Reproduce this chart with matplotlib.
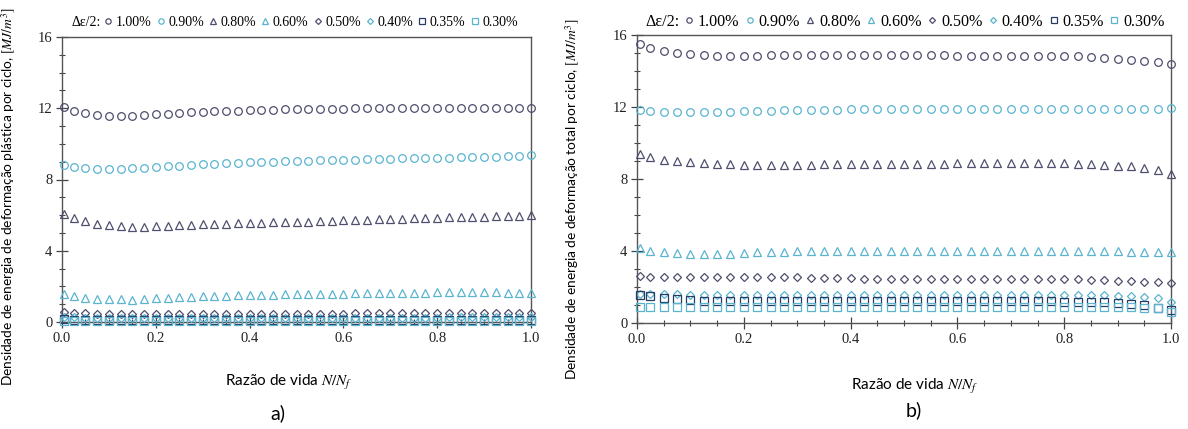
import matplotlib
matplotlib.use('Agg')
import matplotlib.pyplot as plt
from matplotlib.lines import Line2D
from matplotlib.ticker import MultipleLocator

# life ratio N/Nf (same sampling for every series)
life = [0.005, 0.025, 0.05, 0.075, 0.1, 0.125, 0.15, 0.175, 0.2, 0.225,
        0.25, 0.275, 0.3, 0.325, 0.35, 0.375, 0.4, 0.425, 0.45, 0.475,
        0.5, 0.525, 0.55, 0.575, 0.6, 0.625, 0.65, 0.675, 0.7, 0.725,
        0.75, 0.775, 0.8, 0.825, 0.85, 0.875, 0.9, 0.925, 0.95, 0.975, 1.0]

labels = ['1.00%', '0.90%', '0.80%', '0.60%', '0.50%', '0.40%', '0.35%', '0.30%']

# a) plastic strain energy density per cycle [MJ/m^3]
plast_100 = [12.05, 11.86, 11.72, 11.62, 11.58, 11.57, 11.58, 11.62, 11.66, 11.70,
             11.75, 11.79, 11.80, 11.84, 11.86, 11.86, 11.89, 11.90, 11.91, 11.93,
             11.95, 11.96, 11.97, 11.97, 11.98, 11.99, 11.99, 12.00, 12.00, 12.00,
             12.00, 12.00, 12.00, 12.00, 12.00, 12.00, 12.00, 12.00, 12.00, 12.00, 12.02]
plast_090 = [8.82, 8.68, 8.62, 8.58, 8.58, 8.58, 8.62, 8.66, 8.70, 8.74,
             8.78, 8.83, 8.86, 8.88, 8.92, 8.94, 8.96, 8.98, 9.00, 9.02,
             9.04, 9.05, 9.07, 9.08, 9.10, 9.12, 9.13, 9.14, 9.16, 9.18,
             9.19, 9.20, 9.22, 9.23, 9.24, 9.25, 9.26, 9.28, 9.30, 9.32, 9.38]
plast_080 = [6.07, 5.83, 5.66, 5.50, 5.44, 5.38, 5.35, 5.35, 5.38, 5.40,
             5.42, 5.45, 5.48, 5.50, 5.52, 5.53, 5.55, 5.57, 5.59, 5.61,
             5.63, 5.64, 5.66, 5.68, 5.70, 5.72, 5.74, 5.76, 5.78, 5.80,
             5.82, 5.84, 5.86, 5.87, 5.88, 5.90, 5.91, 5.93, 5.94, 5.95, 5.98]
plast_060 = [1.55, 1.45, 1.37, 1.30, 1.28, 1.27, 1.26, 1.28, 1.32, 1.35,
             1.38, 1.42, 1.44, 1.46, 1.48, 1.50, 1.51, 1.52, 1.54, 1.56,
             1.57, 1.58, 1.59, 1.60, 1.60, 1.61, 1.62, 1.63, 1.64, 1.64,
             1.65, 1.65, 1.66, 1.66, 1.66, 1.66, 1.66, 1.66, 1.65, 1.65, 1.65]
plast_050 = [0.57, 0.50, 0.48, 0.47, 0.47, 0.46, 0.46, 0.46, 0.46, 0.46,
             0.46, 0.46, 0.46, 0.46, 0.47, 0.47, 0.47, 0.47, 0.47, 0.47,
             0.47, 0.47, 0.47, 0.47, 0.47, 0.48, 0.48, 0.48, 0.48, 0.48,
             0.48, 0.48, 0.48, 0.48, 0.48, 0.49, 0.49, 0.49, 0.49, 0.50, 0.52]
plast_040 = [0.30, 0.26, 0.25, 0.24, 0.24, 0.24, 0.24, 0.24, 0.24, 0.24,
             0.24, 0.24, 0.24, 0.24, 0.24, 0.24, 0.25, 0.25, 0.25, 0.25,
             0.25, 0.25, 0.25, 0.25, 0.25, 0.25, 0.25, 0.25, 0.25, 0.25,
             0.25, 0.25, 0.25, 0.26, 0.26, 0.26, 0.26, 0.26, 0.26, 0.26, 0.28]
plast_035 = [0.16, 0.13, 0.12, 0.11, 0.11, 0.11, 0.11, 0.11, 0.11, 0.11,
             0.11, 0.11, 0.11, 0.11, 0.11, 0.11, 0.11, 0.11, 0.11, 0.11,
             0.11, 0.11, 0.11, 0.11, 0.11, 0.11, 0.11, 0.11, 0.11, 0.11,
             0.11, 0.11, 0.11, 0.11, 0.11, 0.11, 0.11, 0.11, 0.11, 0.11, 0.12]
plast_030 = [0.07, 0.06, 0.06, 0.06, 0.06, 0.06, 0.06, 0.06, 0.06, 0.06,
             0.06, 0.06, 0.06, 0.06, 0.06, 0.06, 0.06, 0.06, 0.06, 0.06,
             0.06, 0.06, 0.06, 0.06, 0.06, 0.06, 0.06, 0.06, 0.06, 0.06,
             0.06, 0.06, 0.06, 0.06, 0.06, 0.06, 0.06, 0.06, 0.06, 0.06, 0.06]

# b) total strain energy density per cycle [MJ/m^3]
total_100 = [15.49, 15.27, 15.12, 14.98, 14.93, 14.88, 14.86, 14.86, 14.86, 14.86,
             14.87, 14.88, 14.88, 14.88, 14.88, 14.88, 14.88, 14.88, 14.88, 14.88,
             14.88, 14.88, 14.87, 14.87, 14.86, 14.86, 14.86, 14.86, 14.85, 14.85,
             14.85, 14.85, 14.86, 14.84, 14.80, 14.73, 14.66, 14.62, 14.57, 14.51, 14.38]
total_090 = [11.83, 11.78, 11.73, 11.72, 11.72, 11.72, 11.73, 11.74, 11.76, 11.78,
             11.79, 11.81, 11.82, 11.83, 11.84, 11.86, 11.87, 11.88, 11.89, 11.89,
             11.90, 11.90, 11.90, 11.91, 11.91, 11.91, 11.91, 11.91, 11.91, 11.90,
             11.90, 11.90, 11.90, 11.89, 11.88, 11.88, 11.88, 11.88, 11.88, 11.90, 11.93]
total_080 = [9.39, 9.25, 9.08, 8.99, 8.95, 8.87, 8.84, 8.82, 8.80, 8.79,
             8.79, 8.79, 8.80, 8.80, 8.81, 8.82, 8.82, 8.83, 8.83, 8.84,
             8.84, 8.85, 8.86, 8.86, 8.87, 8.87, 8.88, 8.88, 8.88, 8.88,
             8.88, 8.87, 8.87, 8.85, 8.84, 8.80, 8.75, 8.71, 8.62, 8.48, 8.28]
total_060 = [4.15, 4.02, 3.92, 3.87, 3.83, 3.82, 3.84, 3.86, 3.91, 3.94,
             3.96, 3.97, 3.98, 4.00, 4.00, 4.00, 4.00, 4.00, 4.00, 4.00,
             4.00, 4.01, 4.01, 4.01, 4.01, 4.01, 4.01, 4.01, 4.00, 4.00,
             4.00, 4.00, 4.00, 4.00, 4.00, 3.99, 3.98, 3.97, 3.96, 3.95, 3.93]
total_050 = [2.62, 2.58, 2.57, 2.57, 2.56, 2.56, 2.55, 2.55, 2.55, 2.55,
             2.55, 2.54, 2.53, 2.52, 2.49, 2.48, 2.48, 2.47, 2.47, 2.47,
             2.47, 2.47, 2.47, 2.47, 2.47, 2.47, 2.47, 2.47, 2.47, 2.46,
             2.46, 2.46, 2.45, 2.44, 2.40, 2.37, 2.34, 2.32, 2.30, 2.28, 2.22]
total_040 = [1.62, 1.60, 1.59, 1.59, 1.58, 1.58, 1.58, 1.58, 1.58, 1.58,
             1.58, 1.58, 1.58, 1.58, 1.58, 1.58, 1.58, 1.58, 1.58, 1.58,
             1.58, 1.58, 1.58, 1.58, 1.57, 1.57, 1.57, 1.57, 1.57, 1.56,
             1.56, 1.56, 1.56, 1.55, 1.55, 1.54, 1.52, 1.50, 1.47, 1.38, 1.18]
total_035 = [1.57, 1.49, 1.38, 1.33, 1.27, 1.24, 1.22, 1.21, 1.21, 1.21,
             1.21, 1.21, 1.21, 1.21, 1.21, 1.21, 1.21, 1.21, 1.21, 1.21,
             1.21, 1.21, 1.21, 1.21, 1.21, 1.21, 1.21, 1.20, 1.20, 1.20,
             1.20, 1.20, 1.19, 1.18, 1.17, 1.14, 1.10, 1.05, 0.98, 0.84, 0.70]
total_030 = [0.90, 0.90, 0.90, 0.90, 0.90, 0.90, 0.90, 0.90, 0.90, 0.90,
             0.90, 0.90, 0.90, 0.90, 0.89, 0.89, 0.89, 0.89, 0.89, 0.89,
             0.89, 0.89, 0.89, 0.89, 0.88, 0.88, 0.88, 0.88, 0.88, 0.88,
             0.88, 0.88, 0.88, 0.88, 0.88, 0.87, 0.87, 0.87, 0.86, 0.84, 0.62]

dark = '#4e4e6e'
light = '#5ab4cf'
navy = '#263c64'
styles = [('o', dark), ('o', light), ('^', dark), ('^', light),
          ('D', dark), ('D', light), ('s', navy), ('s', light)]
msizes = [5.5, 5.5, 6, 6, 4.3, 4.3, 5.5, 5.5]

plt.rcParams['mathtext.fontset'] = 'stix'
serif = 'Liberation Serif'
sans = 'Lato'

W, H = 1188, 429
fig = plt.figure(figsize=(W / 100, H / 100), dpi=100)


def make_axes(x0, y0, x1, y1):
    # pixel box -> figure fraction
    return fig.add_axes([x0 / W, 1 - y1 / H, (x1 - x0) / W, (y1 - y0) / H])


def style_axes(ax):
    ax.set_xlim(0, 1.0)
    ax.set_ylim(0, 16)
    ax.xaxis.set_major_locator(MultipleLocator(0.2))
    ax.xaxis.set_minor_locator(MultipleLocator(0.05))
    ax.yaxis.set_major_locator(MultipleLocator(4))
    ax.yaxis.set_minor_locator(MultipleLocator(1))
    ax.xaxis.set_major_formatter(plt.FuncFormatter(lambda v, p: f'{v:.1f}'))
    ax.tick_params(which='major', direction='inout', length=8, width=0.9,
                   color='#444444', labelsize=10.5, pad=3)
    ax.tick_params(which='minor', direction='inout', length=4.5, width=0.8,
                   color='#444444')
    for lab in ax.get_xticklabels() + ax.get_yticklabels():
        lab.set_fontfamily(serif)
        lab.set_color('#222222')
    for sp in ax.spines.values():
        sp.set_color('#555555')
        sp.set_linewidth(1.0)


def draw(ax, series):
    for (mk, col), ms, vals in zip(styles, msizes, series):
        ax.plot(life, vals, linestyle='none', marker=mk, ms=ms,
                markerfacecolor='none', markeredgecolor=col, mew=0.9,
                clip_on=False, zorder=3)


def legend_row(x_text, x_leg, y, size):
    fig.text(x_text / W, 1 - y / H, 'Δε/2:', family=serif, fontsize=size,
             va='center', ha='left')
    handles = [Line2D([], [], linestyle='none', marker=mk, ms=ms * 0.7,
                      markerfacecolor='none', markeredgecolor=col, mew=0.9)
               for (mk, col), ms in zip(styles, msizes)]
    fig.legend(handles, labels, loc='center left', ncol=8,
               bbox_to_anchor=(x_leg / W, 1 - y / H), frameon=False,
               prop={'family': serif, 'size': size}, handlelength=0.6,
               handletextpad=0.25, columnspacing=0.35, borderpad=0,
               borderaxespad=0)


ax1 = make_axes(62, 37, 531, 322)
style_axes(ax1)
draw(ax1, [plast_100, plast_090, plast_080, plast_060,
           plast_050, plast_040, plast_035, plast_030])
ax1.set_xlabel('Razão de vida $N/N_f$', family=sans, fontsize=11)
ax1.xaxis.set_label_coords(0.484, -0.179)
ax1.set_ylabel('Densidade de energia de deformação plástica por ciclo, $[MJ/m^3]$',
               family=sans, fontsize=9.8)
ax1.yaxis.set_label_coords(-0.094, 0.44)
legend_row(72, 104, 22, 10)

ax2 = make_axes(637, 35, 1171, 323)
style_axes(ax2)
draw(ax2, [total_100, total_090, total_080, total_060,
           total_050, total_040, total_035, total_030])
ax2.set_xlabel('Razão de vida $N/N_f$', family=sans, fontsize=11)
ax2.xaxis.set_label_coords(0.519, -0.1875)
ax2.set_ylabel('Densidade de energia de deformação total por ciclo, $[MJ/m^3]$',
               family=sans, fontsize=9.8)
ax2.yaxis.set_label_coords(-0.103, 0.43)
legend_row(645, 684, 22, 11.6)

fig.text(278 / W, 1 - 413 / H, 'a)', family=sans, fontsize=14,
         ha='center', va='center')
fig.text(914 / W, 1 - 410 / H, 'b)', family=sans, fontsize=14,
         ha='center', va='center')

fig.savefig('out.png', dpi=100, facecolor='white')
